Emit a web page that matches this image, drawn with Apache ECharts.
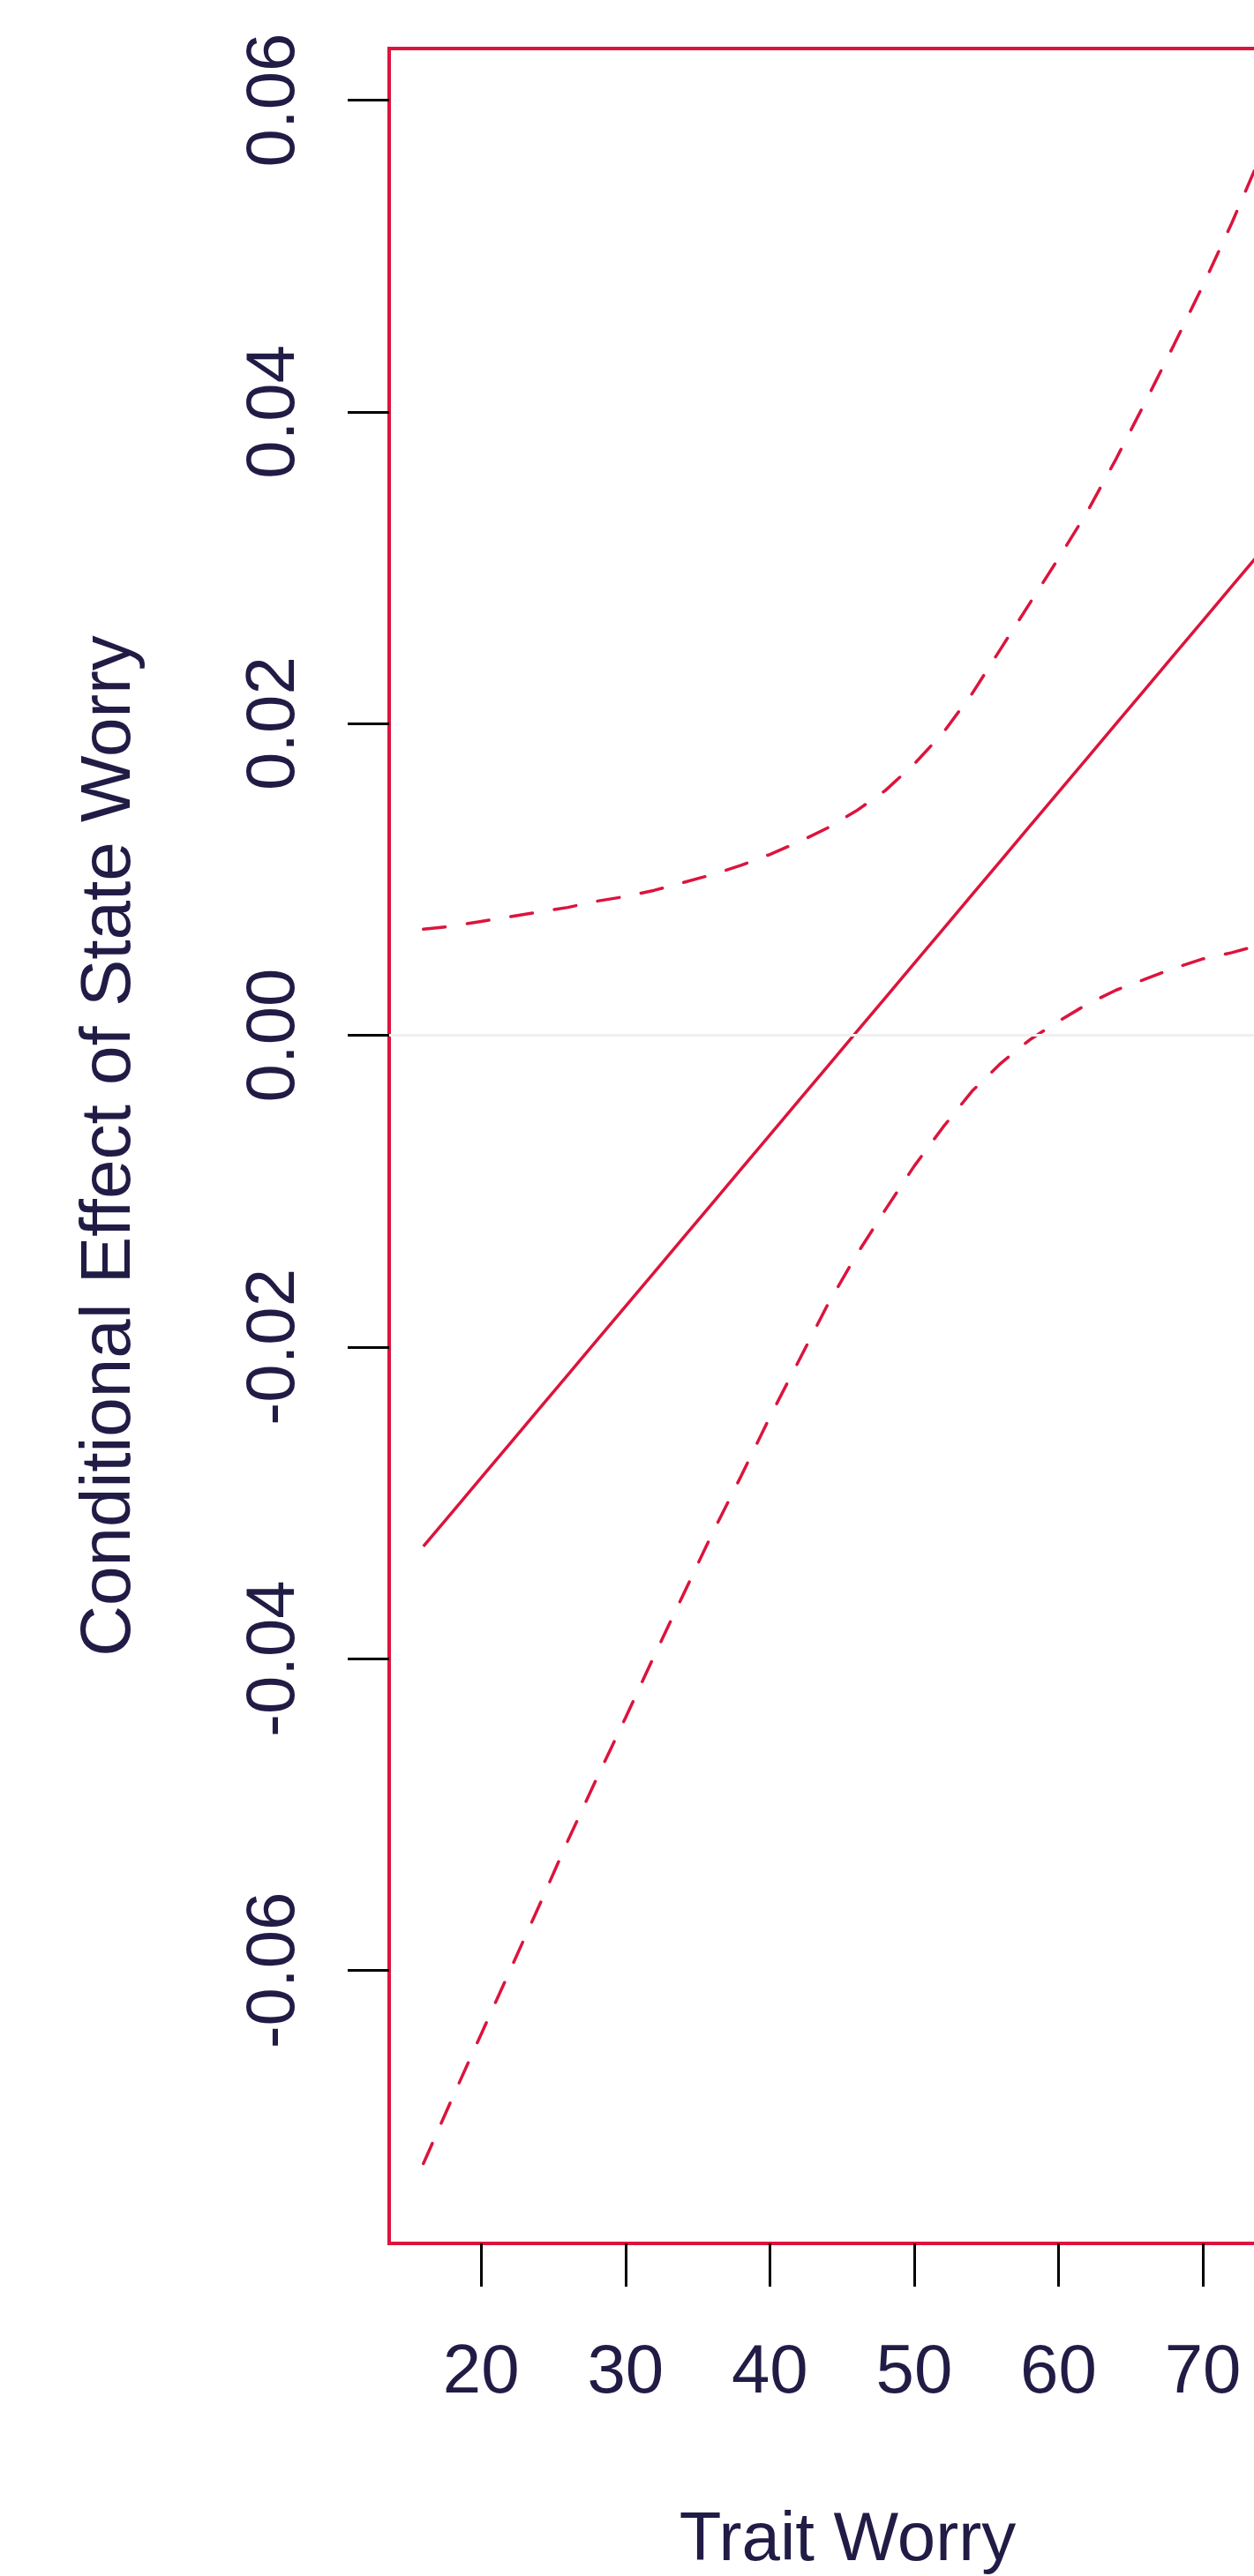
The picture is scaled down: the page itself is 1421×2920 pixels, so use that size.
<!DOCTYPE html>
<html>
<head>
<meta charset="utf-8">
<title>Conditional Effect of State Worry</title>
<script src="https://cdn.jsdelivr.net/npm/echarts@6/dist/echarts.min.js"></script>
<style>
  html, body { margin: 0; padding: 0; background: #ffffff; }
  #chart { width: 1421px; height: 2920px; }
</style>
</head>
<body>
<div id="chart"></div>
<script>
// values
const traitWorry = [16, 18, 20, 22, 24, 26, 28, 30, 32, 34, 36, 38, 40, 42, 44, 46,
                    48, 50, 52, 54, 56, 58, 60, 62, 64, 66, 68, 70, 72, 74, 75];
const effect  = [-0.0328, -0.0306, -0.0284, -0.0262, -0.0240, -0.0218, -0.0196, -0.0174,
                 -0.0152, -0.0130, -0.0108, -0.0086, -0.0064, -0.0042, -0.0020, 0.0002,
                  0.0024, 0.0046, 0.0068, 0.0090, 0.0112, 0.0134, 0.0156, 0.0178,
                  0.0200, 0.0222, 0.0244, 0.0266, 0.0288, 0.0310, 0.0321];
const upperCI = [0.0068, 0.0070, 0.0073, 0.0076, 0.0079, 0.0082, 0.0086, 0.0089,
                 0.0093, 0.0098, 0.0103, 0.0109, 0.0116, 0.0124, 0.0133, 0.0144,
                 0.0157, 0.0174, 0.0194, 0.0219, 0.0248, 0.0277, 0.0306, 0.0336,
                 0.0370, 0.0406, 0.0443, 0.0481, 0.0521, 0.0564, 0.0585];
const lowerCI = [-0.0724, -0.0682, -0.0641, -0.0600, -0.0559, -0.0517, -0.0477, -0.0438,
                 -0.0398, -0.0359, -0.0320, -0.0283, -0.0245, -0.0209, -0.0173, -0.0141,
                 -0.0112, -0.0084, -0.0059, -0.0036, -0.0018, -0.0003, 0.0009, 0.0020,
                  0.0029, 0.0036, 0.0043, 0.0049, 0.0053, 0.0058, 0.0060];
const xTicks = [20, 30, 40, 50, 60, 70];
const yTicks = [-0.06, -0.04, -0.02, 0, 0.02, 0.04, 0.06];

const red = '#dc143c';
const ink = '#211c45';
const font = '"Liberation Sans", Arial, Helvetica, sans-serif';

const chart = echarts.init(document.getElementById('chart'));

function pairs(ys) {
  return traitWorry.map((x, i) => [x, ys[i]]);
}

const dashed = { color: red, width: 3.5, type: [25, 25], cap: 'round' };

const option = {
  backgroundColor: '#ffffff',
  animation: false,
  grid: {
    left: 441,
    top: 55,
    width: 1039,
    height: 2488,
    show: true,
    borderColor: red,
    borderWidth: 4,
    backgroundColor: 'transparent',
    containLabel: false,
    outerBoundsMode: 'none'
  },
  xAxis: {
    type: 'value',
    min: 13.63,
    max: 77.15,
    name: 'Trait Worry',
    nameLocation: 'middle',
    nameGap: 298,
    nameTextStyle: { color: ink, fontSize: 78, fontFamily: font },
    splitLine: { show: false },
    axisLine: { show: false, onZero: false },
    axisTick: {
      show: true,
      length: 49,
      customValues: xTicks,
      lineStyle: { color: '#000000', width: 3 }
    },
    axisLabel: {
      customValues: xTicks,
      margin: 108,
      color: ink,
      fontSize: 78,
      fontFamily: font
    }
  },
  yAxis: {
    type: 'value',
    min: -0.07752,
    max: 0.06331,
    name: 'Conditional Effect of State Worry',
    nameLocation: 'middle',
    nameRotate: 90,
    nameGap: 276,
    nameTextStyle: { color: ink, fontSize: 80, fontFamily: font },
    splitLine: { show: false },
    axisLine: { show: false, onZero: false },
    axisTick: {
      show: true,
      length: 47,
      customValues: yTicks,
      lineStyle: { color: '#000000', width: 3 }
    },
    axisLabel: {
      customValues: yTicks,
      rotate: 90,
      align: 'center',
      verticalAlign: 'bottom',
      margin: 91,
      color: ink,
      fontSize: 78,
      fontFamily: font,
      formatter: (v) => v.toFixed(2)
    }
  },
  series: [
    {
      name: 'upper',
      type: 'line',
      data: pairs(upperCI),
      showSymbol: false,
      lineStyle: dashed
    },
    {
      name: 'effect',
      type: 'line',
      data: pairs(effect),
      showSymbol: false,
      lineStyle: { color: red, width: 3.5 }
    },
    {
      name: 'lower',
      type: 'line',
      data: pairs(lowerCI),
      showSymbol: false,
      lineStyle: dashed,
      markLine: {
        silent: true,
        symbol: 'none',
        label: { show: false },
        lineStyle: { color: '#f0f0f0', width: 3, type: 'solid' },
        data: [{ yAxis: 0 }]
      }
    }
  ]
};

chart.setOption(option);
</script>
</body>
</html>
